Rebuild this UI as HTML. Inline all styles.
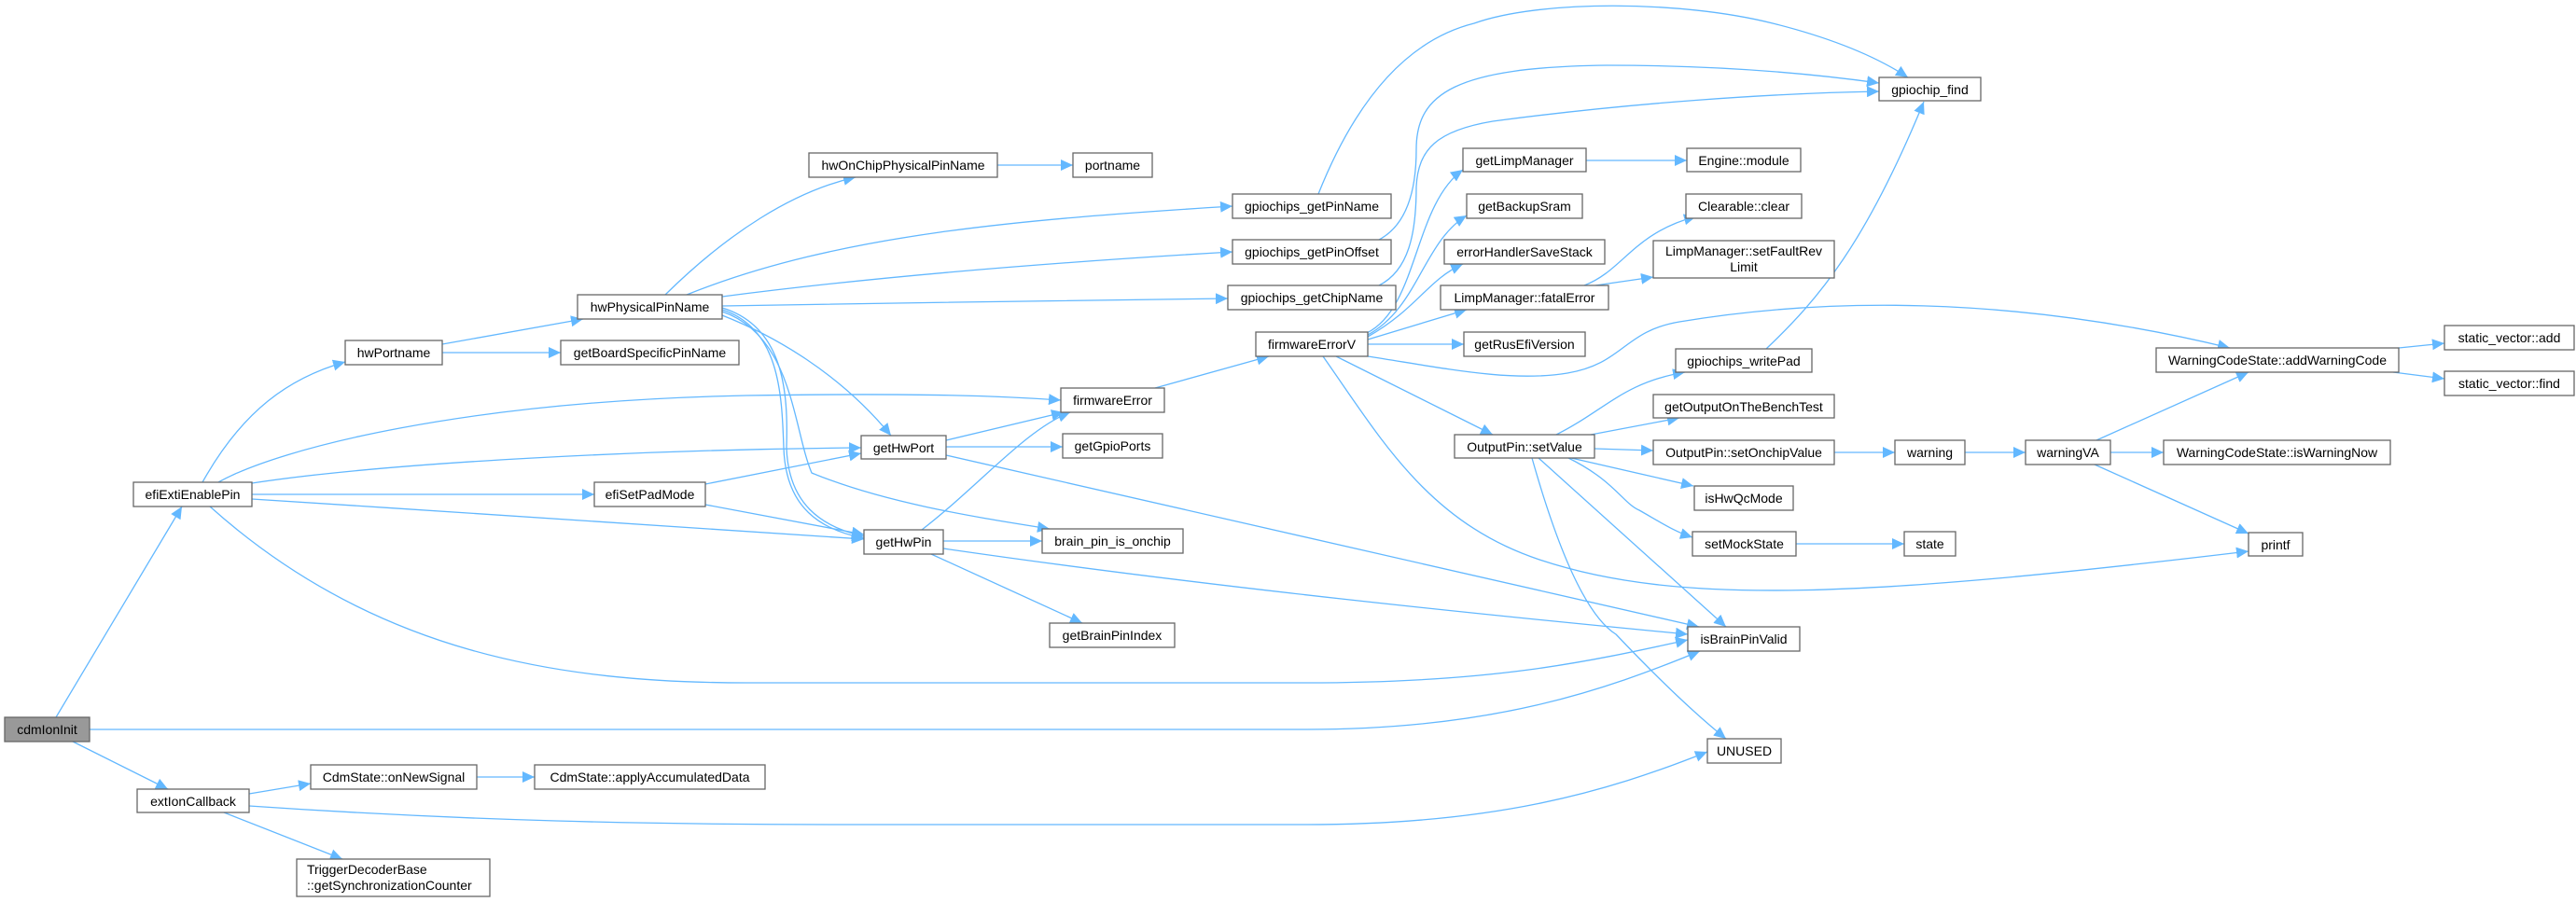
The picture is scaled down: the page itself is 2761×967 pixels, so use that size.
<!DOCTYPE html>
<html><head><meta charset="utf-8"><style>
html,body{margin:0;padding:0;background:#fff;}
svg{display:block;}
.n rect{fill:#fff;stroke:#666;stroke-width:1.3;}
.n text{font-family:"Liberation Sans",sans-serif;font-size:14px;fill:#000;}
.e path{fill:none;stroke:#63b8ff;stroke-width:1.3;}
</style></head><body>
<svg width="2761" height="967" viewBox="0 0 2761 967" xmlns="http://www.w3.org/2000/svg">
<defs>
<marker id="a" markerUnits="userSpaceOnUse" markerWidth="14" markerHeight="12" refX="13" refY="6" orient="auto">
<path d="M0,0 L13,6 L0,12 z" fill="#63b8ff"/>
</marker>
</defs>
<g class="e" marker-end="url(#a)">
<path d="M60,769 L195,543"/>
<path d="M96,782 L1400,782 C1600,782 1720,740 1822,698"/>
<path d="M225,543 C400,700 600,732 800,732 L1400,732 C1600,732 1700,710 1809,686"/>
<path d="M267,864 C500,880 700,884 900,884 L1400,884 C1600,884 1720,850 1830,806"/>
<path d="M78,795 L180,846"/>
<path d="M267,851 L333,840"/>
<path d="M240,871 L367,921"/>
<path d="M511,833 L573,833"/>
<path d="M217,517 C260,440 310,405 370,388"/>
<path d="M234,517 C300,480 500,430 800,424 C1000,421 1080,425 1137,429"/>
<path d="M270,518 C420,495 700,482 923,480"/>
<path d="M270,530 L637,530"/>
<path d="M270,535 C500,550 750,565 926,578"/>
<path d="M474,369 L625,342"/>
<path d="M474,378 L601,378"/>
<path d="M713,316 C780,250 850,205 917,190"/>
<path d="M736,316 C900,250 1100,235 1321,221"/>
<path d="M774,318 C950,295 1150,280 1321,270"/>
<path d="M774,328 C950,325 1150,322 1316,320"/>
<path d="M774,338 C830,360 900,400 955,467"/>
<path d="M774,330 C840,350 845,420 843,480 C845,540 880,565 926,575"/>
<path d="M774,332 C835,352 838,420 840,480 C842,545 880,568 926,577"/>
<path d="M774,334 C850,360 850,460 870,507 C950,540 1050,555 1125,567"/>
<path d="M756,519 L923,486"/>
<path d="M756,541 L926,573"/>
<path d="M1014,472 L1140,442"/>
<path d="M1014,479 L1139,479"/>
<path d="M1014,488 L1821,672"/>
<path d="M988,568 C1050,520 1100,460 1147,442"/>
<path d="M1011,580 L1117,580"/>
<path d="M998,594 L1160,668"/>
<path d="M1011,588 C1300,630 1600,660 1809,680"/>
<path d="M1069,177 L1150,177"/>
<path d="M1238,416 L1360,382"/>
<path d="M1413,208 C1460,90 1520,40 1580,25 C1650,0 1800,0 1900,25 C1960,40 2010,60 2045,83"/>
<path d="M1478,257 C1510,240 1518,200 1518,160 C1518,100 1560,72 1722,70 C1850,70 1950,80 2014,89"/>
<path d="M1478,306 C1510,290 1518,250 1518,200 C1520,160 1540,140 1600,130 C1750,110 1900,100 2014,98"/>
<path d="M1465,357 C1520,330 1515,220 1568,182"/>
<path d="M1466,359 C1520,330 1525,260 1572,231"/>
<path d="M1466,361 C1520,330 1530,300 1568,283"/>
<path d="M1466,364 L1572,332"/>
<path d="M1466,369 L1569,369"/>
<path d="M1466,382 C1550,395 1620,410 1680,400 C1740,390 1740,355 1800,345 C1950,320 2150,315 2390,373"/>
<path d="M1432,382 L1600,466"/>
<path d="M1418,382 C1480,470 1530,560 1650,600 C1800,650 2000,640 2410,591"/>
<path d="M1700,172 L1808,172"/>
<path d="M1698,306 C1740,290 1750,250 1818,232"/>
<path d="M1710,306 L1772,297"/>
<path d="M1668,466 C1720,440 1740,410 1806,399"/>
<path d="M1893,374 C1950,320 2000,260 2062,109"/>
<path d="M1705,466 L1800,448"/>
<path d="M1709,481 L1772,483"/>
<path d="M1684,491 L1815,521"/>
<path d="M1681,491 C1730,515 1740,540 1757,547 C1780,560 1795,570 1814,576"/>
<path d="M1649,491 L1850,672"/>
<path d="M1642,491 C1670,590 1700,660 1732,680 C1770,720 1810,760 1850,792"/>
<path d="M1966,485 L2031,485"/>
<path d="M2106,485 L2171,485"/>
<path d="M2262,485 L2319,485"/>
<path d="M2247,472 L2410,399"/>
<path d="M2245,498 L2410,572"/>
<path d="M2571,373 L2620,368"/>
<path d="M2565,399 L2620,406"/>
<path d="M1925,583 L2041,583"/>
</g>
<g class="n">
<rect x="5" y="769" width="91" height="26" style="fill:#999"/><text x="50.5" y="787" text-anchor="middle">cdmIonInit</text>
<rect x="143" y="517" width="127" height="26"/><text x="206.5" y="535" text-anchor="middle">efiExtiEnablePin</text>
<rect x="147" y="846" width="120" height="25"/><text x="207" y="864" text-anchor="middle">extIonCallback</text>
<rect x="370" y="365" width="104" height="26"/><text x="422" y="383" text-anchor="middle">hwPortname</text>
<rect x="619" y="316" width="155" height="26"/><text x="696.5" y="334" text-anchor="middle">hwPhysicalPinName</text>
<rect x="601" y="365" width="191" height="26"/><text x="696.5" y="383" text-anchor="middle">getBoardSpecificPinName</text>
<rect x="637" y="517" width="119" height="26"/><text x="696.5" y="535" text-anchor="middle">efiSetPadMode</text>
<rect x="867" y="164" width="202" height="26"/><text x="968" y="182" text-anchor="middle">hwOnChipPhysicalPinName</text>
<rect x="1150" y="164" width="85" height="26"/><text x="1192.5" y="182" text-anchor="middle">portname</text>
<rect x="923" y="467" width="91" height="25"/><text x="968.5" y="485" text-anchor="middle">getHwPort</text>
<rect x="926" y="568" width="85" height="26"/><text x="968.5" y="586" text-anchor="middle">getHwPin</text>
<rect x="1137" y="416" width="111" height="26"/><text x="1192.5" y="434" text-anchor="middle">firmwareError</text>
<rect x="1139" y="465" width="107" height="26"/><text x="1192.5" y="483" text-anchor="middle">getGpioPorts</text>
<rect x="1117" y="567" width="151" height="26"/><text x="1192.5" y="585" text-anchor="middle">brain_pin_is_onchip</text>
<rect x="1125" y="668" width="134" height="26"/><text x="1192" y="686" text-anchor="middle">getBrainPinIndex</text>
<rect x="333" y="820" width="178" height="26"/><text x="422" y="838" text-anchor="middle">CdmState::onNewSignal</text>
<rect x="573" y="820" width="247" height="26"/><text x="696.5" y="838" text-anchor="middle">CdmState::applyAccumulatedData</text>
<rect x="318" y="921" width="207" height="40"/><text x="329" y="937">TriggerDecoderBase</text><text x="329" y="954">::getSynchronizationCounter</text>
<rect x="1321" y="208" width="170" height="26"/><text x="1406" y="226" text-anchor="middle">gpiochips_getPinName</text>
<rect x="1321" y="257" width="170" height="26"/><text x="1406" y="275" text-anchor="middle">gpiochips_getPinOffset</text>
<rect x="1316" y="306" width="180" height="26"/><text x="1406" y="324" text-anchor="middle">gpiochips_getChipName</text>
<rect x="1346" y="356" width="120" height="26"/><text x="1406" y="374" text-anchor="middle">firmwareErrorV</text>
<rect x="1568" y="159" width="132" height="25"/><text x="1634" y="177" text-anchor="middle">getLimpManager</text>
<rect x="1572" y="208" width="124" height="26"/><text x="1634" y="226" text-anchor="middle">getBackupSram</text>
<rect x="1548" y="257" width="172" height="26"/><text x="1634" y="275" text-anchor="middle">errorHandlerSaveStack</text>
<rect x="1544" y="306" width="180" height="26"/><text x="1634" y="324" text-anchor="middle">LimpManager::fatalError</text>
<rect x="1569" y="356" width="130" height="26"/><text x="1634" y="374" text-anchor="middle">getRusEfiVersion</text>
<rect x="1559" y="466" width="150" height="25"/><text x="1634" y="484" text-anchor="middle">OutputPin::setValue</text>
<rect x="1808" y="159" width="122" height="25"/><text x="1869" y="177" text-anchor="middle">Engine::module</text>
<rect x="1807" y="208" width="124" height="26"/><text x="1869" y="226" text-anchor="middle">Clearable::clear</text>
<rect x="1772" y="258" width="194" height="40"/><text x="1869" y="274" text-anchor="middle">LimpManager::setFaultRev</text><text x="1869" y="291" text-anchor="middle">Limit</text>
<rect x="1796" y="374" width="146" height="25"/><text x="1869" y="392" text-anchor="middle">gpiochips_writePad</text>
<rect x="1772" y="423" width="194" height="25"/><text x="1869" y="441" text-anchor="middle">getOutputOnTheBenchTest</text>
<rect x="1772" y="472" width="194" height="26"/><text x="1869" y="490" text-anchor="middle">OutputPin::setOnchipValue</text>
<rect x="1816" y="521" width="106" height="26"/><text x="1869" y="539" text-anchor="middle">isHwQcMode</text>
<rect x="1814" y="570" width="111" height="26"/><text x="1869.5" y="588" text-anchor="middle">setMockState</text>
<rect x="1809" y="672" width="120" height="26"/><text x="1869" y="690" text-anchor="middle">isBrainPinValid</text>
<rect x="1830" y="792" width="79" height="26"/><text x="1869.5" y="810" text-anchor="middle">UNUSED</text>
<rect x="2014" y="83" width="109" height="25"/><text x="2068.5" y="101" text-anchor="middle">gpiochip_find</text>
<rect x="2041" y="570" width="55" height="26"/><text x="2068.5" y="588" text-anchor="middle">state</text>
<rect x="2031" y="472" width="75" height="26"/><text x="2068.5" y="490" text-anchor="middle">warning</text>
<rect x="2171" y="472" width="91" height="26"/><text x="2216.5" y="490" text-anchor="middle">warningVA</text>
<rect x="2311" y="373" width="260" height="26"/><text x="2441" y="391" text-anchor="middle">WarningCodeState::addWarningCode</text>
<rect x="2319" y="472" width="243" height="26"/><text x="2440.5" y="490" text-anchor="middle">WarningCodeState::isWarningNow</text>
<rect x="2410" y="571" width="58" height="25"/><text x="2439" y="589" text-anchor="middle">printf</text>
<rect x="2620" y="349" width="139" height="26"/><text x="2689.5" y="367" text-anchor="middle">static_vector::add</text>
<rect x="2620" y="398" width="139" height="26"/><text x="2689.5" y="416" text-anchor="middle">static_vector::find</text>
</g>
</svg>
</body></html>
